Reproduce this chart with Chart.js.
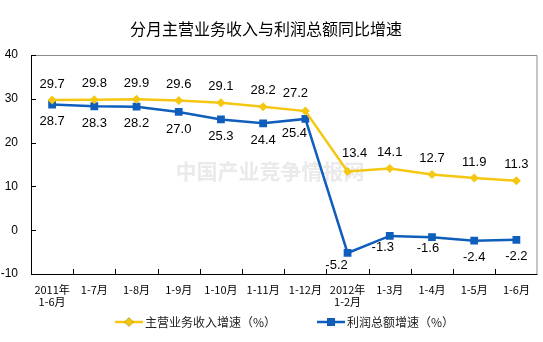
<!DOCTYPE html>
<html lang="zh-CN">
<head>
<meta charset="utf-8">
<title>分月主营业务收入与利润总额同比增速</title>
<script src="https://cdn.jsdelivr.net/npm/chart.js@4.4.1/dist/chart.umd.min.js"></script>
<style>
  html, body { margin: 0; padding: 0; background: #fff; }
  #wrap { width: 543px; height: 342px; position: relative; }
</style>
</head>
<body>
<div id="wrap"><canvas id="chart"></canvas></div>
<script>
// 数据
const chartTitle = '分月主营业务收入与利润总额同比增速';
const watermark = '中国产业竞争情报网';
const periods = [['2011年', '1-6月'], '1-7月', '1-8月', '1-9月', '1-10月', '1-11月', '1-12月',
  ['2012年', '1-2月'], '1-3月', '1-4月', '1-5月', '1-6月'];
const revenueGrowth = [29.7, 29.8, 29.9, 29.6, 29.1, 28.2, 27.2, 13.4, 14.1, 12.7, 11.9, 11.3];
const profitGrowth = [28.7, 28.3, 28.2, 27.0, 25.3, 24.4, 25.4, -5.2, -1.3, -1.6, -2.4, -2.2];
const revenueName = '主营业务收入增速（%）';
const profitName = '利润总额增速（%）';
const yMin = -10, yMax = 40, yStep = 10;

const YELLOW = 'rgb(245,198,18)';
const BLUE = 'rgb(16,94,188)';
const NUM_FONT = '"Liberation Sans", Arial, sans-serif';
const CJK_FONT = '"Noto Sans CJK SC", "Noto Sans", sans-serif';

// 数据标签：黄线在上，蓝线在下，个别点挪开避免压线
const labelOffset = [-16, 17];
const labelNudge = [
  { 6: [-10, -2], 7: [7, -2] },
  { 6: [-11, -3], 7: [-11, -5], 8: [-7, -5], 9: [-4, -6] }
];

const decorPlugin = {
  id: 'decor',
  beforeDatasetsDraw(chart) {
    const { ctx } = chart;
    ctx.save();
    // 水印
    ctx.font = 'bold 21px ' + CJK_FONT;
    ctx.fillStyle = 'rgba(225,225,225,0.7)';
    ctx.textAlign = 'center';
    ctx.textBaseline = 'middle';
    ctx.fillText(watermark, 270, 171);
    ctx.restore();
  },
  afterDatasetsDraw(chart) {
    const { ctx, chartArea: a, scales } = chart;
    ctx.save();

    // 绘图区边框：上、右灰色，左、下黑色
    ctx.lineWidth = 1;
    ctx.strokeStyle = '#8c8c8c';
    ctx.beginPath();
    ctx.moveTo(a.left, a.top + 0.5);
    ctx.lineTo(a.right - 0.5, a.top + 0.5);
    ctx.lineTo(a.right - 0.5, a.bottom);
    ctx.stroke();
    ctx.strokeStyle = '#000';
    ctx.beginPath();
    ctx.moveTo(a.left + 0.5, a.top);
    ctx.lineTo(a.left + 0.5, a.bottom + 0.5);
    ctx.lineTo(a.right, a.bottom + 0.5);
    ctx.stroke();

    // 刻度线朝内
    ctx.beginPath();
    scales.y.ticks.forEach(t => {
      const y = Math.round(scales.y.getPixelForValue(t.value)) + 0.5;
      ctx.moveTo(a.left, y);
      ctx.lineTo(a.left + 5, y);
    });
    const step = (a.right - a.left) / periods.length;
    for (let i = 1; i < periods.length; i++) {
      const x = Math.round(a.left + step * i) + 0.5;
      ctx.moveTo(x, a.bottom);
      ctx.lineTo(x, a.bottom - 5);
    }
    ctx.stroke();

    // 数据标签
    ctx.font = '13px ' + NUM_FONT;
    ctx.fillStyle = '#000';
    ctx.textAlign = 'center';
    ctx.textBaseline = 'middle';
    chart.data.datasets.forEach((ds, i) => {
      chart.getDatasetMeta(i).data.forEach((pt, j) => {
        const n = labelNudge[i][j] || [0, 0];
        ctx.fillText(ds.data[j].toFixed(1), pt.x + n[0], pt.y + labelOffset[i] + n[1]);
      });
    });
    ctx.restore();
  },
  afterDraw(chart) {
    const { ctx } = chart;
    ctx.save();
    // 标题
    ctx.font = '16px ' + CJK_FONT;
    ctx.fillStyle = '#000';
    ctx.textAlign = 'center';
    ctx.textBaseline = 'middle';
    ctx.fillText(chartTitle, 266, 29);

    // 图例
    const items = [
      { x: 115, ds: chart.data.datasets[0] },
      { x: 317, ds: chart.data.datasets[1] }
    ];
    const ly = 322;
    ctx.font = '12px ' + CJK_FONT;
    ctx.textAlign = 'left';
    items.forEach(it => {
      ctx.strokeStyle = it.ds.borderColor;
      ctx.lineWidth = 2.5;
      ctx.beginPath();
      ctx.moveTo(it.x, ly);
      ctx.lineTo(it.x + 28, ly);
      ctx.stroke();
      Chart.helpers.drawPoint(ctx, {
        pointStyle: it.ds.pointStyle,
        radius: it.ds.pointRadius,
        borderWidth: 0
      }, it.x + 14, ly);
      ctx.fillStyle = it.ds.pointBackgroundColor;
      ctx.fill();
      ctx.fillStyle = '#222';
      ctx.fillText(it.ds.label, it.x + 30, ly);
    });
    ctx.restore();
  }
};

const ctx = document.getElementById('chart').getContext('2d');
const chart = new Chart(ctx, {
  type: 'line',
  data: {
    labels: periods,
    datasets: [{
      label: revenueName,
      data: revenueGrowth,
      borderColor: YELLOW,
      backgroundColor: YELLOW,
      pointBackgroundColor: YELLOW,
      pointBorderColor: YELLOW,
      pointStyle: 'rectRot',
      pointRadius: 4.5,
      pointBorderWidth: 0,
      borderWidth: 2.5,
      tension: 0
    }, {
      label: profitName,
      data: profitGrowth,
      borderColor: BLUE,
      backgroundColor: BLUE,
      pointBackgroundColor: BLUE,
      pointBorderColor: BLUE,
      pointStyle: 'rect',
      pointRadius: 5.5,
      pointBorderWidth: 0,
      borderWidth: 2.5,
      tension: 0
    }]
  },
  options: {
    responsive: true,
    maintainAspectRatio: false,
    animation: false,
    layout: { padding: { top: 55, right: 2, bottom: 28, left: 0 } },
    plugins: {
      legend: { display: false },
      title: { display: false },
      tooltip: { enabled: false }
    },
    scales: {
      x: {
        offset: true,
        grid: { display: false, drawTicks: false },
        border: { display: false },
        afterFit: s => { s.height = 40; },
        ticks: {
          autoSkip: false,
          maxRotation: 0,
          padding: 10,
          color: '#000',
          font: { family: CJK_FONT, size: 11, lineHeight: 1.1 }
        }
      },
      y: {
        min: yMin,
        max: yMax,
        grid: { display: false, drawTicks: false },
        border: { display: false },
        afterFit: s => { s.width = 31; },
        ticks: {
          stepSize: yStep,
          padding: 13,
          color: '#000',
          font: { family: NUM_FONT, size: 12 }
        }
      }
    }
  },
  plugins: [decorPlugin]
});
</script>
</body>
</html>
